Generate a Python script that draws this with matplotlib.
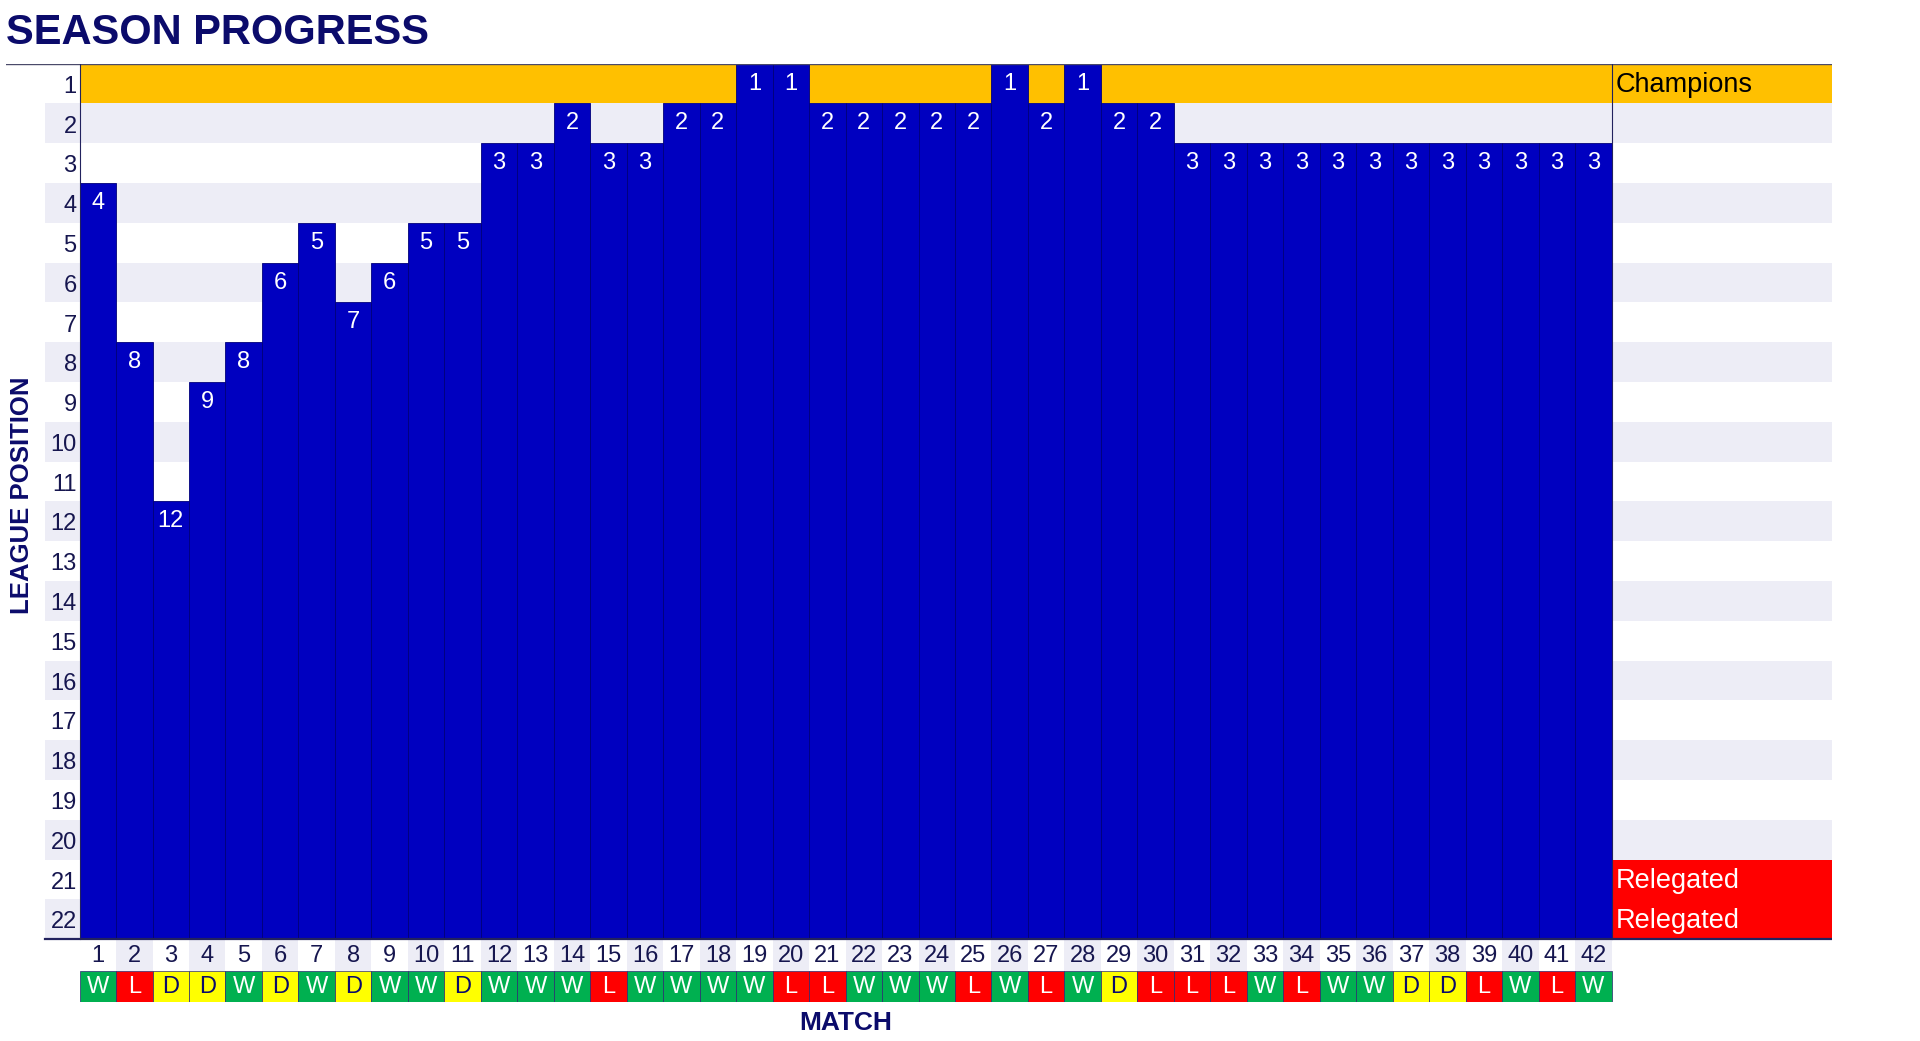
import matplotlib
matplotlib.use("Agg")
import matplotlib.pyplot as plt
from matplotlib import font_manager


# league position after each match
matches = list(range(1, 43))
positions = [4, 8, 12, 9, 8, 6, 5, 7, 6, 5, 5, 3, 3, 2, 3, 3, 2, 2, 1, 1, 2,
             2, 2, 2, 2, 1, 2, 1, 2, 2, 3, 3, 3, 3, 3, 3, 3, 3, 3, 3, 3, 3]
results = list("WLDDWDWDWWDWWWLWWWWLLWWWLWLWDLLLWLWWDDLWLW")
rows = list(range(1, 23))
zone_labels = {1: "Champions", 21: "Relegated", 22: "Relegated"}

BLUE = "#0000C0"
GOLD = "#FFC000"
LAV = "#EDEDF6"
RED = "#FF0000"
NAVY = "#0B0B6B"
TXT = "#16164F"
RES_COL = {"W": "#00B050", "L": "#FF0000", "D": "#FFFF00"}
RES_TXT = {"W": "white", "L": "white", "D": NAVY}

names = {f.name for f in font_manager.fontManager.ttflist}
COND = "Liberation Sans Narrow" if "Liberation Sans Narrow" in names else "Liberation Sans"
TITLE_SIZE = 36 if COND != "Liberation Sans" else 30
plt.rcParams["font.family"] = ["Liberation Sans", "DejaVu Sans"]


def main():
    fig = plt.figure(figsize=(19.2, 10.41), dpi=100)
    ax = fig.add_axes([0.00318, 0.03785, 0.9509, 0.9010])

    x_lab = -0.44          # left edge of the row-number strip
    x_end = 48.54          # right edge of the zone-label column
    n = len(matches)
    right = n + 0.5

    ax.set_xlim(-1.515, x_end)
    ax.set_ylim(24.07, 0.5)
    ax.axis("off")

    # alternating row stripes
    even = [r for r in rows if r % 2 == 0]
    ax.barh(even, x_end - x_lab, left=x_lab, height=1, color=LAV, zorder=0)
    ax.barh([1], x_end - 0.5, left=0.5, height=1, color=GOLD, zorder=0.5)
    ax.barh([21, 22], x_end - right, left=right, height=1, color=RED, zorder=0.5)

    # position bars
    ax.bar(matches, [23 - p for p in positions], bottom=[p - 0.5 for p in positions],
           width=1, color=BLUE, edgecolor="#00007A", linewidth=0.6, zorder=2)
    for m, p in zip(matches, positions):
        ax.text(m, p, str(p), color="white", fontsize=17, ha="center", va="center", zorder=3)

    # match number row and result row
    ax.bar(matches, 0.8, bottom=22.5, width=1,
           color=["white" if m % 2 else LAV for m in matches], zorder=1)
    ax.bar(matches, 0.77, bottom=23.3, width=1, color=[RES_COL[r] for r in results],
           edgecolor="#2A2A70", linewidth=0.5, zorder=1)
    for m, r in zip(matches, results):
        ax.text(m, 22.93, str(m), color=TXT, fontsize=17, ha="center", va="center", zorder=3)
        ax.text(m, 23.7, r, color=RES_TXT[r], fontsize=17, ha="center", va="center", zorder=3)

    # row numbers
    for r in rows:
        ax.text(0.42, r + 0.08, str(r), color=TXT, fontsize=17, ha="right", va="center", zorder=3)

    for r, lab in zone_labels.items():
        ax.text(right + 0.12, r + 0.04, lab, color="black" if r == 1 else "white",
                fontsize=19.5, ha="left", va="center", zorder=3)

    # frame lines
    ax.plot([-1.515, x_end], [0.5, 0.5], color="#4A4A6A", lw=1.0, zorder=4)
    ax.plot([x_lab, x_end], [22.5, 22.5], color="#22225E", lw=1.6, zorder=4)
    ax.plot([0.5, 0.5], [0.5, 22.5], color="#22225E", lw=0.8, zorder=4)
    ax.plot([right, right], [0.5, 22.5], color="#22225E", lw=0.8, zorder=4)

    ax.text(-1.08, 11.35, "LEAGUE POSITION", rotation=90, color=NAVY, fontsize=18.5,
            fontweight="bold", family=COND, ha="center", va="center")
    ax.text((n + 1) / 2, 24.6, "MATCH", color=NAVY, fontsize=19,
            fontweight="bold", family=COND, ha="center", va="center")

    fig.text(0.00318, 1 - 33 / 1041, "SEASON PROGRESS", color=NAVY, fontsize=TITLE_SIZE,
             fontweight="bold", family=COND, ha="left", va="center")

    fig.savefig("out.png", dpi=100)


if __name__ == "__main__":
    main()
